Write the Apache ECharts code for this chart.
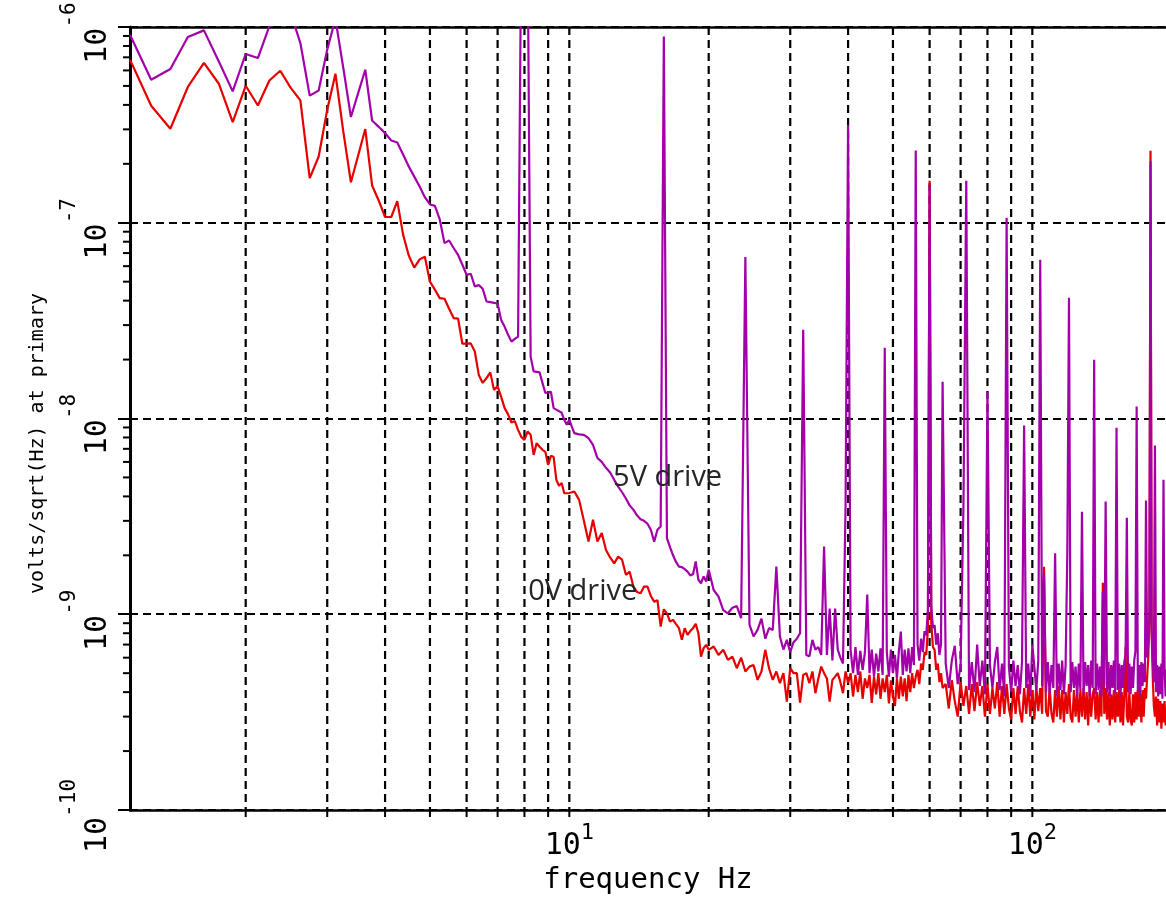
<!DOCTYPE html>
<html>
<head>
<meta charset="utf-8">
<script src="https://cdn.jsdelivr.net/npm/echarts/dist/echarts.min.js"></script>
<style>
html,body{margin:0;padding:0;background:#fff;}
#chart{width:1166px;height:905px;}
</style>
</head>
<body>
<div id="chart"></div>
<script>
// ---------------- DATA (values in nV/sqrt(Hz), frequencies in Hz) ----------------
const freqA = [1.125,1.25,1.375,1.5,1.625,1.75,1.875,2,
  2.125,2.25,2.375,2.5,2.625,2.75,2.875,3,
  3.125,3.25,3.375,3.5,3.625,3.75,3.875,4,
  4.125,4.25,4.375,4.5,4.625,4.75,4.875,5,
  5.125,5.25,5.375,5.5,5.625,5.75,5.875,6,
  6.125,6.25,6.375,6.5,6.625,6.75,6.875,7,
  7.125,7.25,7.375,7.5,7.625,7.75,7.875,8,
  8.125,8.25,8.375,8.5,8.625,8.75,8.875,9,
  9.125,9.25,9.375,9.5,9.625,9.75,9.875,10];
const redA = [681,396,302,494,655,513,327,501,
  397,533,598,490,422,169,218,378,
  577,292,161,221,301,155,130,107,
  107,129,87,68,59,65,67,50,
  45.5,41.2,40.9,36.4,32.6,32.4,24.1,24.1,
  24.2,22.0,16.7,15.2,16.1,17.2,14.0,14.6,
  12.9,11.3,10.5,9.54,9.7,8.75,8.06,7.78,
  8.58,8.25,6.52,7.49,7.17,6.92,6.76,5.8,
  6.45,6.35,4.86,4.53,4.68,4.15,4.15,4.16];
const purpleA = [913,538,610,889,961,666,469,728,
  694,1010,1300,1185,828,446,474,767,
  1100,617,347,461,605,333,309,287,
  263,257,223,194,172,153,135,124,
  122,104,78.7,81.2,74.3,68.6,61,54.2,
  54.9,47.3,48,46,39.6,39.3,39,38.6,
  31.9,29.4,26.8,24.7,25.5,26.2,3000,50000,
  3000,20.7,17.4,17.3,17.2,15.2,13.5,13.6,
  13.7,11.3,11.1,10.9,10.7,9.85,9.29,9.85];

const freqB = [10.25,10.5,10.75,11,11.25,11.5,11.75,12,
  12.25,12.5,12.75,13,13.25,13.5,13.75,14,
  14.25,14.5,14.75,15,15.25,15.5,15.75,16,
  16.25,16.5,16.75,17,17.25,17.5,17.75,18,
  18.25,18.5,18.75,19,19.25,19.5,19.75,20];
const redB = [4.24,3.84,3.0,2.35,3.04,2.35,2.6,2.13,
  1.95,1.82,1.97,1.9,1.59,1.65,1.385,1.3,
  1.28,1.385,1.385,1.24,1.16,1.18,0.865,1.06,
  1.01,0.918,0.936,0.89,0.849,0.74,0.849,0.785,
  0.82,0.849,0.893,0.8,0.608,0.671,0.698,0.658];
const purpleB = [8.42,8.3,8.25,7.94,7.34,6.28,6.0,5.6,
  5.3,4.86,4.49,4.2,3.9,3.6,3.42,3.2,
  3.06,3.0,2.9,2.7,2.35,2.7,2.81,895,
  2.45,2.2,2.0,1.85,1.75,1.74,1.70,1.65,
  1.58,1.60,1.86,1.50,1.44,1.56,1.47,1.69];

const freqC = [20.5,21,21.5,22,22.5,23,23.5,24,
  24.5,25,25.5,26,26.5,27,27.5,28,
  28.5,29,29.5,30,30.5,31,31.5,32,
  32.5,33,33.5,34,34.5,35,35.5,36,
  36.5,37,37.5,38,38.5,39,39.5,40];
const redC = [0.684,0.62,0.658,0.585,0.608,0.53,0.60,0.51,
  0.54,0.551,0.462,0.51,0.658,0.53,0.462,0.51,
  0.445,0.50,0.358,0.53,0.50,0.50,0.354,0.49,
  0.50,0.445,0.51,0.395,0.47,0.54,0.50,0.47,
  0.358,0.462,0.48,0.50,0.45,0.395,0.51,0.445];
const purpleC = [1.33,1.23,1.05,1.01,1.08,1.10,0.955,66.8,
  0.883,0.77,0.832,0.95,0.75,0.85,0.83,1.75,
  0.77,0.66,0.74,0.64,0.72,0.75,0.80,28.4,
  0.62,0.61,0.74,0.66,0.68,0.62,2.22,0.62,
  1.07,0.58,1.07,0.66,0.60,0.56,3.55,317];

const freqD = [40.5,41,41.5,42,42.5,43,43.5,44,
  44.5,45,45.5,46,46.5,47,47.5,48,
  48.5,49,49.5,50,50.5,51,51.5,52,
  52.5,53,53.5,54,54.5,55,55.5,56,
  56.5,57,57.5,58,58.5,59,59.5,60,
  60.5,61,61.5,62,62.5,63,63.5,64];
const redD = [0.50,0.38,0.49,0.40,0.51,0.37,0.47,0.42,
  0.49,0.352,0.48,0.39,0.50,0.37,0.47,0.40,
  0.49,0.35,0.46,0.38,0.34,0.47,0.37,0.48,
  0.38,0.47,0.36,0.49,0.40,0.50,0.42,0.48,
  0.52,0.44,0.56,0.52,0.64,0.62,0.85,164,
  0.90,0.68,0.66,0.52,0.56,0.45,0.50,0.42];
const purpleD = [0.66,0.50,0.68,0.49,0.65,0.52,0.64,1.26,
  0.50,0.66,0.48,0.63,0.51,0.67,0.49,23.0,
  0.64,0.48,0.66,0.50,0.62,0.47,0.65,0.816,
  0.49,0.66,0.51,0.67,0.50,0.68,0.55,234,
  0.70,0.58,0.75,0.64,0.82,0.78,1.05,156,
  1.10,0.85,0.88,0.70,0.80,0.62,0.70,15.4];

const freqE = [65,66,67,68,69,70,71,72,73,74,
  75,76,77,78,79,80,81,82,83,84,
  85,86,87,88,89,90,91,92,93,94,
  95,96,97,98,99,100,101,102,103,104,
  105,106,107,108,109,110,111,112,113,114,
  115,116,117,118,119,120,121,122,123,124,
  125,126,127,128,129,130,131,132,133,134,
  135,136,137,138,139,140,141,142,143,144,
  145,146,147,148,149,150,151,152,153,154,
  155,156,157,158,159,160,161,162,163,164,
  165,166,167,168,169,170,171,172,173,174,
  175,176,177,178,179,180,181,182,183,184,
  185,186,187,188,189,190,191,192,193,194,
  195];
const redE = [0.44,0.33,0.46,0.36,0.30,0.45,0.34,0.43,0.31,0.44,
  0.32,0.45,0.34,0.43,0.30,0.44,0.31,0.42,0.33,0.45,
  0.30,0.43,0.31,0.44,0.33,0.29,0.42,0.31,0.43,0.32,
  0.28,0.42,0.31,0.44,0.30,0.41,0.29,0.43,0.32,0.42,
  0.31,1.75,0.32,0.30,0.42,0.31,0.28,0.41,0.30,0.43,
  0.29,0.41,0.28,0.40,0.31,0.44,0.30,0.28,0.41,0.30,
  0.40,0.28,0.41,0.30,0.42,0.29,0.40,0.27,0.41,0.30,
  0.39,0.42,0.29,0.40,0.28,0.41,0.30,1.45,0.31,0.42,
  0.29,0.40,0.27,0.39,0.29,0.41,0.28,0.40,0.30,0.41,
  0.28,0.40,0.27,0.39,0.68,0.30,0.28,0.40,0.29,0.27,
  0.39,0.28,0.40,0.29,0.41,0.30,0.39,0.28,0.41,0.30,
  0.42,0.37,0.48,0.60,0.95,233,0.80,0.48,0.34,0.30,
  0.38,0.27,0.37,0.28,0.36,0.26,0.35,0.28,0.36,0.27,
  0.33];
const purpleE = [0.56,0.42,0.58,0.69,0.44,0.55,3.59,164,0.41,0.57,
  0.40,0.70,0.43,0.58,0.39,13.7,0.55,0.42,0.57,0.68,
  0.41,0.56,0.38,106,0.54,0.40,0.58,0.43,0.55,0.39,
  0.57,9.21,0.42,0.56,0.38,0.70,0.54,0.41,0.58,64.7,
  0.43,1.6,0.40,0.57,0.39,0.55,0.42,2.05,0.38,0.56,
  0.41,0.58,0.39,0.55,2.05,41.4,0.40,0.57,0.42,0.54,
  0.38,0.56,0.41,3.34,0.39,0.57,0.43,0.55,0.38,0.58,
  0.42,19.95,0.39,0.56,0.41,0.54,0.38,1.3,0.43,3.77,
  0.40,0.57,0.38,0.55,0.42,0.58,0.39,8.96,0.41,0.56,
  0.38,0.55,0.42,0.57,0.62,3.11,0.40,0.56,0.39,0.54,
  0.42,0.58,0.65,11.5,0.40,0.55,0.38,0.57,0.43,0.56,
  0.45,3.81,0.60,0.72,1.0,206,0.85,0.58,0.45,7.28,
  0.40,0.55,0.38,0.54,0.39,0.56,0.37,4.86,0.53,0.38,
  0.52];

// axis decorations
const gridFreqs = [2,3,4,5,6,7,8,9,10,20,30,40,50,60,70,80,90,100];
const yMinorMantissas = [2,3,4,5,6,7,8,9];
const yDecadeExponents = [-10,-9,-8,-7];
const seriesNames = ['0V drive','5V drive'];

// ---------------- BUILD ----------------
const NV = 1e-9;
const freq = [].concat(freqA, freqB, freqC, freqD, freqE);
const red = [].concat(redA, redB, redC, redD, redE);
const purple = [].concat(purpleA, purpleB, purpleC, purpleD, purpleE);
const redData = freq.map((f, i) => [f, red[i] * NV]);
const purpleData = freq.map((f, i) => [f, purple[i] * NV]);
const yMinor = [];
yDecadeExponents.forEach(e => yMinorMantissas.forEach(m => yMinor.push([1.125, m * Math.pow(10, e)])));

const MONO = "'DejaVu Sans Mono','Liberation Mono',monospace";
const XMIN = 1.125, XMAX = 194.4;

function decadeExp(v) {
  const e = Math.log10(v);
  const r = Math.round(e);
  return Math.abs(e - r) < 1e-6 ? r : null;
}

const chart = echarts.init(document.getElementById('chart'), null, {renderer: 'canvas'});
chart.setOption({
  animation: false,
  backgroundColor: '#ffffff',
  grid: {left: 130, right: 0, top: 27, bottom: 95, containLabel: false, outerBoundsMode: 'none'},
  xAxis: [{
    type: 'log', logBase: 10, min: XMIN, max: XMAX,
    name: 'frequency Hz', nameLocation: 'middle', nameGap: 55,
    nameTextStyle: {fontFamily: MONO, fontSize: 29, color: '#000'},
    axisLine: {show: true, onZero: false, lineStyle: {color: '#000', width: 2.5}},
    axisTick: {show: false},
    splitLine: {show: false},
    axisLabel: {
      margin: 12,
      formatter: v => { const e = decadeExp(v); return e === null ? '' : '{m|10}{s|' + e + '}'; },
      rich: {
        m: {fontFamily: MONO, fontSize: 30, color: '#000', verticalAlign: 'bottom', padding: [9, 0, 0, 0]},
        s: {fontFamily: MONO, fontSize: 22, color: '#000', verticalAlign: 'top'}
      }
    }
  }, {
    type: 'log', logBase: 10, min: XMIN, max: XMAX, position: 'top',
    axisLine: {show: true, lineStyle: {color: '#000', width: 2.5}},
    axisTick: {show: false}, axisLabel: {show: false}, splitLine: {show: false}
  }],
  yAxis: {
    type: 'log', logBase: 10, min: 1e-10, max: 1e-6,
    name: 'volts/sqrt(Hz) at primary', nameLocation: 'middle', nameGap: 82,
    nameTextStyle: {fontFamily: MONO, fontSize: 20, color: '#000', padding: [0, 50, 0, 0]},
    axisLine: {show: true, onZero: false, lineStyle: {color: '#000', width: 3}},
    axisTick: {show: true, length: 12, lineStyle: {color: '#000', width: 2}},
    splitLine: {show: true, lineStyle: {color: '#000', width: 2.2, type: [8, 5]}},
    axisLabel: {
      rotate: 90, margin: 17, padding: [0, 12, 0, 0],
      formatter: v => { const e = decadeExp(v); return e === null ? '' : '{m|10}{s|' + e + '}'; },
      rich: {
        m: {fontFamily: MONO, fontSize: 30, color: '#000', verticalAlign: 'bottom', padding: [24, 0, 0, 0]},
        s: {fontFamily: MONO, fontSize: 21, color: '#000', verticalAlign: 'top'}
      }
    }
  },
  series: [
    {
      type: 'custom', name: 'xgrid', coordinateSystem: 'cartesian2d', silent: true, z: 1, clip: false,
      data: gridFreqs.map(f => [f, 1e-8]),
      renderItem: (params, api) => {
        const cs = params.coordSys;
        const x = api.coord([api.value(0), api.value(1)])[0];
        return {type: 'group', children: [
          {type: 'line', shape: {x1: x, y1: cs.y, x2: x, y2: cs.y + cs.height},
           style: {stroke: '#000', lineWidth: 2.2, lineDash: [8, 5]}},
          {type: 'line', shape: {x1: x, y1: cs.y + cs.height, x2: x, y2: cs.y + cs.height + 7},
           style: {stroke: '#000', lineWidth: 2}}
        ]};
      }
    },
    {
      type: 'custom', name: 'yminor', coordinateSystem: 'cartesian2d', silent: true, z: 1, clip: false,
      data: yMinor,
      renderItem: (params, api) => {
        const cs = params.coordSys;
        const y = api.coord([api.value(0), api.value(1)])[1];
        return {type: 'line', shape: {x1: cs.x - 7, y1: y, x2: cs.x, y2: y},
                style: {stroke: '#000', lineWidth: 2}};
      }
    },
    {
      type: 'line', name: seriesNames[0], data: redData, showSymbol: false, symbol: 'none', z: 3,
      lineStyle: {color: '#e60000', width: 2.2}, itemStyle: {color: '#e60000'},
      markPoint: {
        silent: true, symbol: 'circle', symbolSize: 1, itemStyle: {color: 'rgba(0,0,0,0)'},
        label: {show: true, position: 'inside', align: 'left', verticalAlign: 'middle',
                fontFamily: "'Open Sans','Noto Sans',sans-serif", fontSize: 29, color: '#262626'},
        data: [{coord: [8.15, 1.3e-9], value: seriesNames[0], label: {formatter: seriesNames[0]}}]
      }
    },
    {
      type: 'line', name: seriesNames[1], data: purpleData, showSymbol: false, symbol: 'none', z: 4,
      lineStyle: {color: '#a300aa', width: 2.2}, itemStyle: {color: '#a300aa'},
      markPoint: {
        silent: true, symbol: 'circle', symbolSize: 1, itemStyle: {color: 'rgba(0,0,0,0)'},
        label: {show: true, position: 'inside', align: 'left', verticalAlign: 'middle',
                fontFamily: "'Open Sans','Noto Sans',sans-serif", fontSize: 29, color: '#262626'},
        data: [{coord: [12.43, 5e-9], value: seriesNames[1], label: {formatter: seriesNames[1]}}]
      }
    }
  ]
});
</script>
</body>
</html>
